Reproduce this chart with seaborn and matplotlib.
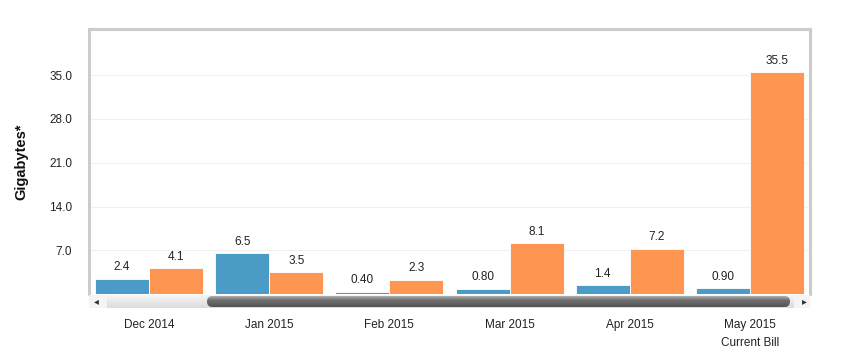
import numpy as np
import pandas as pd
import matplotlib
matplotlib.use("Agg")
import matplotlib.pyplot as plt
import seaborn as sns
from matplotlib.patches import FancyBboxPatch, Rectangle

months = ["Dec 2014", "Jan 2015", "Feb 2015", "Mar 2015", "Apr 2015", "May 2015\nCurrent Bill"]
series_a = [2.4, 6.5, 0.40, 0.80, 1.4, 0.90]
series_b = [4.1, 3.5, 2.3, 8.1, 7.2, 35.5]
labels_a = ["2.4", "6.5", "0.40", "0.80", "1.4", "0.90"]
labels_b = ["4.1", "3.5", "2.3", "8.1", "7.2", "35.5"]
yticks = [7.0, 14.0, 21.0, 28.0, 35.0]

df = pd.DataFrame({
    "month": months * 2,
    "value": series_a + series_b,
    "series": ["A"] * 6 + ["B"] * 6,
})

sns.set_theme(style="white")
plt.rcParams["font.family"] = ["Liberation Sans", "DejaVu Sans"]

W, H = 848, 359
fig = plt.figure(figsize=(W / 100, H / 100), dpi=100)
L, R, T, B = 89, 810, 29, 294
ax = fig.add_axes([L / W, 1 - B / H, (R - L) / W, (B - T) / H])

sns.barplot(data=df, x="month", y="value", hue="series", order=months,
            palette={"A": "#4b9bc7", "B": "#fe9651"}, width=0.9,
            edgecolor="white", linewidth=0.6, saturation=1, ax=ax, legend=False)

ax.set_xlim(-0.5, 5.5)
ax.set_ylim(0, 42.4)
ax.set_yticks(yticks)
ax.set_yticklabels([f"{v:.1f}" for v in yticks], fontsize=8.5, color="#222222")
ax.tick_params(axis="y", length=0, pad=12)
ax.grid(axis="y", color="#f0f0f0", linewidth=0.8)
ax.set_axisbelow(True)
ax.set_xticks([])
ax.set_xlabel("")
ax.set_ylabel("Gigabytes*", fontsize=10.5, fontweight="bold", color="#111111")
ax.yaxis.set_label_coords((28 - L) / (R - L), 0.5)
for s in ["top", "left", "right"]:
    ax.spines[s].set_color("#cccccc")
    ax.spines[s].set_linewidth(2.2)
ax.spines["bottom"].set_visible(False)

# value labels
for i, c in enumerate(ax.containers):
    labs = labels_a if i == 0 else labels_b
    ax.bar_label(c, labels=labs, padding=4, fontsize=8.5, color="#222222")

# scrollbar (decorative)
sb = fig.add_axes([L / W, 1 - 308 / H, (R - L) / W, 13 / H])
sb.set_xlim(L, R)
sb.set_ylim(0, 13)
sb.axis("off")
grad_bg = np.linspace(0.97, 0.86, 20).reshape(-1, 1)
sb.imshow(grad_bg, extent=[L, R, 0, 13], aspect="auto", cmap="gray", vmin=0, vmax=1, origin="upper")
sb.add_patch(Rectangle((L, 0), 18, 13, facecolor="#f4f4f4", edgecolor="none"))
sb.add_patch(Rectangle((R - 16, 0), 16, 13, facecolor="#f4f4f4", edgecolor="none"))
sb.text(L + 7, 6.5, "◂", ha="center", va="center", fontsize=7, color="#333333", family="DejaVu Sans")
sb.text(R - 6, 6.5, "▸", ha="center", va="center", fontsize=7, color="#333333", family="DejaVu Sans")
grad = np.concatenate([np.linspace(0.72, 0.42, 6), np.linspace(0.42, 0.33, 6)]).reshape(-1, 1)
im = sb.imshow(grad, extent=[207, 790, 1, 12], aspect="auto", cmap="gray", vmin=0, vmax=1, origin="upper")
clip = FancyBboxPatch((207, 1), 790 - 207, 11, boxstyle="round,pad=0,rounding_size=5.5",
                      transform=sb.transData, facecolor="none", edgecolor="none")
sb.add_patch(clip)
im.set_clip_path(clip)

# x labels
centers = [L + (R - L) / 6 * (i + 0.5) for i in range(6)]
for i, (cx, m) in enumerate(zip(centers, months)):
    parts = m.split("\n")
    fig.text(cx / W, 1 - 325 / H, parts[0], ha="center", va="center", fontsize=8.5, color="#222222")
    if len(parts) > 1:
        fig.text(cx / W, 1 - 343 / H, parts[1], ha="center", va="center", fontsize=8.5, color="#222222")

fig.savefig("out.png", dpi=100, facecolor="white")
